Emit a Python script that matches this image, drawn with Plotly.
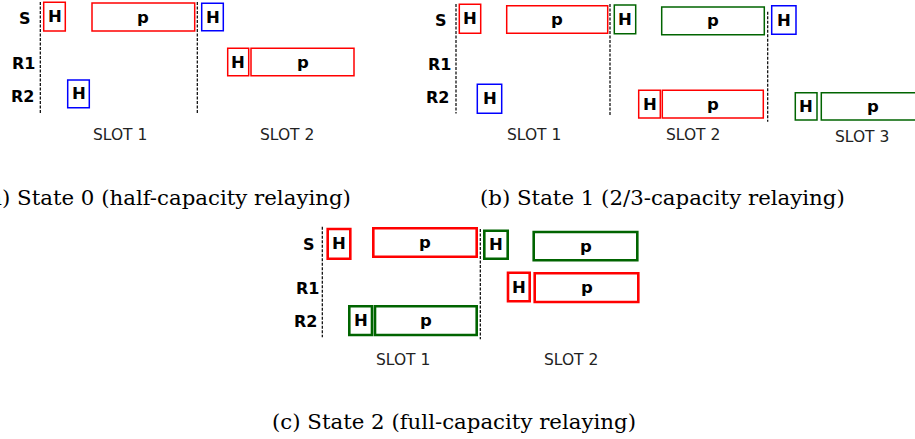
import plotly.graph_objects as go

# ---------------- data (diagram coordinates, px-like units) ----------------
RED, BLUE, GREEN = "#ff0000", "#0000ff", "#006400"

# Panel (a) State 0
a_label = ["H", "p", "H", "H", "p", "H"]
a_color = [RED, RED, BLUE, RED, RED, BLUE]
a_x0 = [43.7, 92.0, 201.7, 227.7, 251.0, 67.7]
a_x1 = [65.3, 194.7, 223.3, 248.7, 354.0, 89.3]
a_y0 = [2.3, 3.0, 3.3, 48.3, 48.3, 80.0]
a_y1 = [31.0, 31.0, 30.7, 75.7, 75.7, 107.7]
a_div_x = [40.3, 197.3]
a_div_y0 = [2.0, 2.0]
a_div_y1 = [113.5, 114.5]
a_rows = ["S", "R1", "R2"]
a_row_x = [25.0, 23.0, 22.7]
a_row_y = [18.0, 63.0, 96.5]
a_slots = ["SLOT 1", "SLOT 2"]
a_slot_x = [120.0, 287.0]
a_slot_y = [134.5, 134.5]

# Panel (b) State 1
b_label = ["H", "p", "H", "p", "H", "H", "H", "p", "H", "p"]
b_color = [RED, RED, GREEN, GREEN, BLUE, BLUE, RED, RED, GREEN, GREEN]
b_x0 = [459.3, 506.7, 614.3, 661.7, 771.7, 477.3, 638.7, 662.3, 795.3, 821.3]
b_x1 = [480.7, 607.7, 635.7, 764.3, 796.0, 501.7, 660.3, 763.3, 817.0, 924.0]
b_y0 = [4.3, 5.7, 5.0, 7.0, 5.7, 84.3, 90.3, 90.3, 92.7, 92.7]
b_y1 = [33.3, 33.3, 33.7, 34.7, 34.3, 113.3, 118.0, 118.0, 120.0, 120.0]
b_div_x = [456.0, 610.0, 767.7]
b_div_y0 = [4.0, 4.0, 11.7]
b_div_y1 = [113.5, 115.0, 121.7]
b_rows = ["S", "R1", "R2"]
b_row_x = [440.7, 439.0, 437.7]
b_row_y = [20.0, 64.0, 97.5]
b_slots = ["SLOT 1", "SLOT 2", "SLOT 3"]
b_slot_x = [534.3, 692.7, 861.7]
b_slot_y = [134.8, 134.8, 137.0]

# Panel (c) State 2
c_label = ["H", "p", "H", "p", "H", "p", "H", "p"]
c_color = [RED, RED, GREEN, GREEN, RED, RED, GREEN, GREEN]
c_x0 = [327.7, 373.3, 484.3, 533.7, 508.0, 534.7, 349.3, 375.0]
c_x1 = [350.3, 476.7, 507.7, 637.3, 529.7, 638.3, 372.0, 476.7]
c_y0 = [229.0, 228.3, 230.7, 232.0, 272.7, 273.3, 306.3, 306.3]
c_y1 = [258.7, 256.7, 258.7, 260.3, 301.3, 302.0, 335.0, 335.0]
c_div_x = [322.3, 480.3]
c_div_y0 = [226.7, 229.0]
c_div_y1 = [337.3, 339.3]
c_rows = ["S", "R1", "R2"]
c_row_x = [308.7, 307.3, 305.7]
c_row_y = [244.5, 288.0, 321.0]
c_slots = ["SLOT 1", "SLOT 2"]
c_slot_x = [403.3, 570.7]
c_slot_y = [359.8, 359.8]

captions = ["(a) State 0 (half-capacity relaying)",
            "(b) State 1 (2/3-capacity relaying)",
            "(c) State 2 (full-capacity relaying)"]
cap_x = [353.0, 662.5, 454.0]
cap_anchor = ["right", "center", "center"]
cap_y = [197.5, 197.5, 421.5]

# ---------------- figure ----------------
W, H = 915, 439
fig = go.Figure()
fig.add_trace(go.Scatter(x=[0, W], y=[0, H], mode="markers",
                         marker=dict(opacity=0), hoverinfo="skip", showlegend=False))

shapes, annos = [], []
SANS = "DejaVu Sans"

def panel(labels, colors, x0, x1, y0, y1, dx, dy0, dy1,
          rows, rx, ry, slots, sx, sy, lw):
    for lab, col, a, b, c, d in zip(labels, colors, x0, x1, y0, y1):
        shapes.append(dict(type="rect", xref="x", yref="y", x0=a, x1=b, y0=c, y1=d,
                           line=dict(color=col, width=lw), fillcolor="rgba(0,0,0,0)"))
        annos.append(dict(x=(a + b) / 2, y=(c + d) / 2, text=lab, showarrow=False,
                          xref="x", yref="y",
                          font=dict(family=SANS, size=16.5, color="black", weight="bold")))
    for x, a, b in zip(dx, dy0, dy1):
        shapes.append(dict(type="line", xref="x", yref="y", x0=x, x1=x, y0=a, y1=b,
                           line=dict(color="black", width=1.2, dash="3px,1.5px")))
    for t, x, y in zip(rows, rx, ry):
        annos.append(dict(x=x, y=y, text=t, showarrow=False, xref="x", yref="y",
                          font=dict(family=SANS, size=16, color="black", weight="bold")))
    for t, x, y in zip(slots, sx, sy):
        annos.append(dict(x=x, y=y, text=t, showarrow=False, xref="x", yref="y",
                          font=dict(family=SANS, size=15.5, color="#222222")))

panel(a_label, a_color, a_x0, a_x1, a_y0, a_y1, a_div_x, a_div_y0, a_div_y1,
      a_rows, a_row_x, a_row_y, a_slots, a_slot_x, a_slot_y, 1.5)
panel(b_label, b_color, b_x0, b_x1, b_y0, b_y1, b_div_x, b_div_y0, b_div_y1,
      b_rows, b_row_x, b_row_y, b_slots, b_slot_x, b_slot_y, 1.5)
panel(c_label, c_color, c_x0, c_x1, c_y0, c_y1, c_div_x, c_div_y0, c_div_y1,
      c_rows, c_row_x, c_row_y, c_slots, c_slot_x, c_slot_y, 2.6)

for t, x, anc, y in zip(captions, cap_x, cap_anchor, cap_y):
    annos.append(dict(x=x, y=y, text=t, showarrow=False, xref="x", yref="y",
                      xanchor=anc,
                      font=dict(family="DejaVu Serif", size=21.3, color="black")))

fig.update_layout(
    width=W, height=H, autosize=False,
    margin=dict(l=0, r=0, t=0, b=0),
    paper_bgcolor="white", plot_bgcolor="white",
    xaxis=dict(range=[0, W], visible=False, fixedrange=True),
    yaxis=dict(range=[H, 0], visible=False, fixedrange=True),
    shapes=shapes, annotations=annos, showlegend=False,
)
fig.write_html("out.html", config={"displayModeBar": False},
               post_script="document.body.style.margin='0';document.body.style.overflow='hidden';")
